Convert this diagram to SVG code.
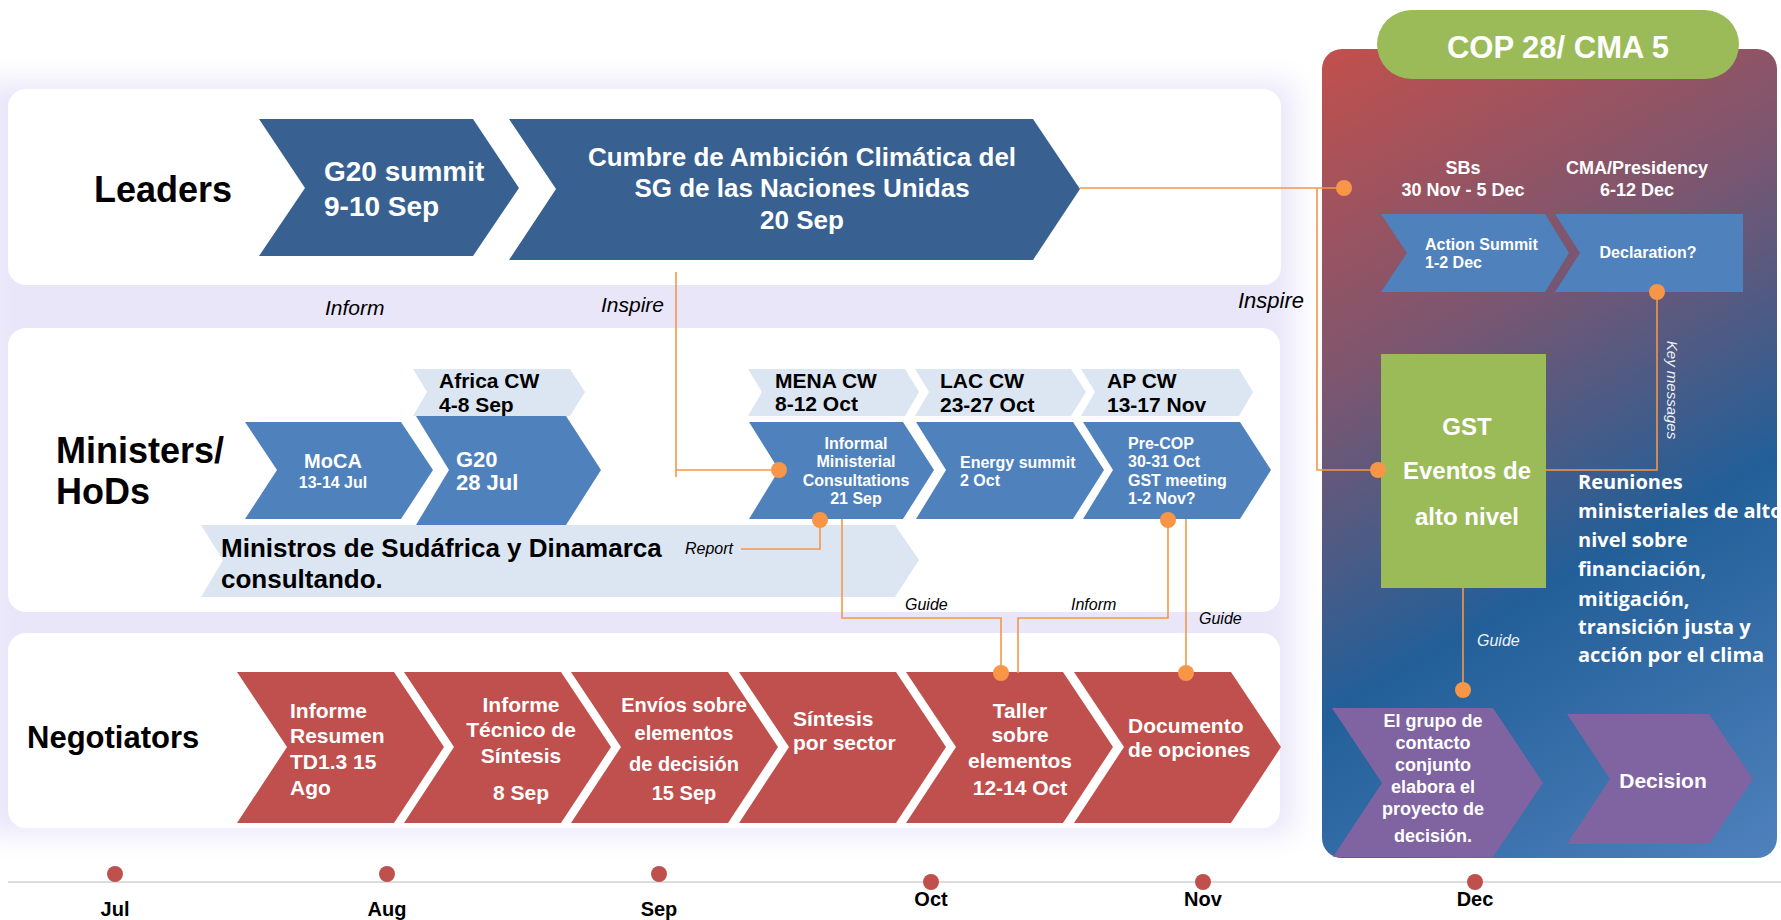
<svg xmlns="http://www.w3.org/2000/svg" width="1781" height="920" viewBox="0 0 1781 920">
<defs>
<filter id="blur" x="-10%" y="-10%" width="120%" height="120%"><feGaussianBlur stdDeviation="14"/></filter>
<linearGradient id="copg" gradientUnits="userSpaceOnUse" x1="1322" y1="60" x2="1777" y2="858">
<stop offset="0" stop-color="#c0504d"/>
<stop offset="0.32" stop-color="#7b5670"/>
<stop offset="0.62" stop-color="#225f98"/>
<stop offset="1" stop-color="#4f81bd"/>
</linearGradient>
<style>
text{font-family:"Liberation Sans",Arial,sans-serif}
.b{font-weight:bold}
.w{fill:#fff}
.k{fill:#000}
.it{font-style:italic;fill:#000}
.c{text-anchor:middle}
.panel{fill:#fff}
.ldr{fill:#386192}
.min{fill:#4f81bd}
.lt{fill:#dce6f2}
.neg{fill:#c0504d}
.pur{fill:#8064a2}
.grn{fill:#9bbb59}
.con{fill:none;stroke:#f79646;stroke-width:1.6}
.dot{fill:#f79646}
.tdot{fill:#c0504d}
.os{font-family:"Open Sans","Liberation Sans",sans-serif;font-weight:bold;fill:#fff;font-size:20px}
</style>
</defs>
<rect width="1781" height="920" fill="#fff"/>
<rect x="-20" y="82" width="1314" height="752" fill="#e9e6f9" filter="url(#blur)"/>

<g id="lane-leaders">
<rect class="panel" x="8" y="89" width="1273" height="196" rx="18"/>
<text class="b k" x="94" y="202" font-size="36">Leaders</text>
</g>
<g id="lane-ministers">
<rect class="panel" x="8" y="328" width="1272" height="284" rx="18"/>
<text class="b k" x="56" y="463" font-size="36">Ministers/</text>
<text class="b k" x="56" y="504" font-size="36">HoDs</text>
</g>
<g id="lane-negotiators">
<rect class="panel" x="8" y="633" width="1272" height="195" rx="18"/>
<text class="b k" x="27" y="748" font-size="31">Negotiators</text>
</g>

<g id="cop-panel">
<rect x="1322" y="49" width="455" height="809" rx="20" fill="url(#copg)"/>
<rect class="grn" x="1377" y="10" width="362" height="69" rx="34.5"/>
<text class="b w c" x="1558" y="58" font-size="31">COP 28/ CMA 5</text>
<text class="b w c" x="1463" y="174" font-size="18">SBs</text>
<text class="b w c" x="1463" y="196" font-size="18">30 Nov - 5 Dec</text>
<text class="b w c" x="1637" y="174" font-size="18">CMA/Presidency</text>
<text class="b w c" x="1637" y="196" font-size="18">6-12 Dec</text>
<text class="os" x="1578" y="489">Reuniones</text>
<text class="os" x="1578" y="518">ministeriales de alto</text>
<text class="os" x="1578" y="547">nivel sobre</text>
<text class="os" x="1578" y="576">financiación,</text>
<text class="os" x="1578" y="606">mitigación,</text>
<text class="os" x="1578" y="634">transición justa y</text>
<text class="os" x="1578" y="662">acción por el clima</text>
</g>

<g id="g20-summit">
<polygon class="ldr" points="259,119 473,119 519,188 473,256 259,256 305,188"/>
<text class="b w" x="324" y="181" font-size="28">G20 summit</text>
<text class="b w" x="324" y="216" font-size="28">9-10 Sep</text>
</g>
<g id="cumbre">
<polygon class="ldr" points="509,119 1033,119 1080,189 1033,260 509,260 556,189"/>
<text class="b w c" x="802" y="166" font-size="26">Cumbre de Ambición Climática del</text>
<text class="b w c" x="802" y="197" font-size="26">SG de las Naciones Unidas</text>
<text class="b w c" x="802" y="229" font-size="26">20 Sep</text>
</g>

<g id="africa-cw">
<polygon class="lt" points="413,369 570,369 585,392 570,416 413,416 427,392"/>
<text class="b k" x="439" y="388" font-size="21">Africa CW</text>
<text class="b k" x="439" y="412" font-size="21">4-8 Sep</text>
</g>
<g id="mena-cw">
<polygon class="lt" points="748,369 905,369 919,392 905,416 748,416 762,392"/>
<text class="b k" x="775" y="388" font-size="21">MENA CW</text>
<text class="b k" x="775" y="411" font-size="21">8-12 Oct</text>
</g>
<g id="lac-cw">
<polygon class="lt" points="915,369 1071,369 1086,392 1071,416 915,416 929,392"/>
<text class="b k" x="940" y="388" font-size="21">LAC CW</text>
<text class="b k" x="940" y="412" font-size="21">23-27 Oct</text>
</g>
<g id="ap-cw">
<polygon class="lt" points="1081,369 1239,369 1253,392 1239,416 1081,416 1095,392"/>
<text class="b k" x="1107" y="388" font-size="21">AP CW</text>
<text class="b k" x="1107" y="412" font-size="21">13-17 Nov</text>
</g>
<g id="moca">
<polygon class="min" points="245,422 401,422 433,470 401,519 245,519 277,470"/>
<text class="b w c" x="333" y="468" font-size="20">MoCA</text>
<text class="b w c" x="333" y="488" font-size="16">13-14 Jul</text>
</g>
<g id="g20-ministers">
<polygon class="min" points="416,416 566,416 601,470 566,525 416,525 449,470"/>
<text class="b w" x="456" y="467" font-size="22">G20</text>
<text class="b w" x="456" y="490" font-size="22">28 Jul</text>
</g>
<g id="informal">
<polygon class="min" points="749,422 903,422 934,470 903,519 749,519 779,470"/>
<text class="b w c" x="856" y="449" font-size="16">Informal</text>
<text class="b w c" x="856" y="467" font-size="16">Ministerial</text>
<text class="b w c" x="856" y="486" font-size="16">Consultations</text>
<text class="b w c" x="856" y="504" font-size="16">21 Sep</text>
</g>
<g id="energy">
<polygon class="min" points="916,422 1073,422 1104,470 1073,519 916,519 946,470"/>
<text class="b w" x="960" y="468" font-size="16">Energy summit</text>
<text class="b w" x="960" y="486" font-size="16">2 Oct</text>
</g>
<g id="precop">
<polygon class="min" points="1083,422 1240,422 1271,470 1240,519 1083,519 1113,470"/>
<text class="b w" x="1128" y="449" font-size="16">Pre-COP</text>
<text class="b w" x="1128" y="467" font-size="16">30-31 Oct</text>
<text class="b w" x="1128" y="486" font-size="16">GST meeting</text>
<text class="b w" x="1128" y="504" font-size="16">1-2 Nov?</text>
</g>
<g id="ministros">
<polygon class="lt" points="201,525 895,525 919,560 895,597 201,597 223,560"/>
<text class="b k" x="221" y="557" font-size="26">Ministros de Sudáfrica y Dinamarca</text>
<text class="b k" x="221" y="588" font-size="26">consultando.</text>
</g>

<g id="neg1">
<polygon class="neg" points="237,672 394,672 444,747 394,823 237,823 287,747"/>
<text class="b w" x="290" y="718" font-size="21">Informe</text>
<text class="b w" x="290" y="743" font-size="21">Resumen</text>
<text class="b w" x="290" y="769" font-size="21">TD1.3 15</text>
<text class="b w" x="290" y="795" font-size="21">Ago</text>
</g>
<g id="neg2">
<polygon class="neg" points="404,672 561,672 611,747 561,823 404,823 454,747"/>
<text class="b w c" x="521" y="712" font-size="21">Informe</text>
<text class="b w c" x="521" y="737" font-size="21">Técnico de</text>
<text class="b w c" x="521" y="763" font-size="21">Síntesis</text>
<text class="b w c" x="521" y="800" font-size="21">8 Sep</text>
</g>
<g id="neg3">
<polygon class="neg" points="571,672 728,672 778,747 728,823 571,823 621,747"/>
<text class="b w c" x="684" y="712" font-size="20">Envíos sobre</text>
<text class="b w c" x="684" y="740" font-size="20">elementos</text>
<text class="b w c" x="684" y="771" font-size="20">de decisión</text>
<text class="b w c" x="684" y="800" font-size="20">15 Sep</text>
</g>
<g id="neg4">
<polygon class="neg" points="739,672 896,672 946,747 896,823 739,823 789,747"/>
<text class="b w" x="793" y="726" font-size="21">Síntesis</text>
<text class="b w" x="793" y="750" font-size="21">por sector</text>
</g>
<g id="neg5">
<polygon class="neg" points="906,672 1063,672 1113,747 1063,823 906,823 956,747"/>
<text class="b w c" x="1020" y="718" font-size="21">Taller</text>
<text class="b w c" x="1020" y="742" font-size="21">sobre</text>
<text class="b w c" x="1020" y="768" font-size="21">elementos</text>
<text class="b w c" x="1020" y="795" font-size="21">12-14 Oct</text>
</g>
<g id="neg6">
<polygon class="neg" points="1074,672 1231,672 1281,747 1231,823 1074,823 1124,747"/>
<text class="b w" x="1128" y="733" font-size="21">Documento</text>
<text class="b w" x="1128" y="757" font-size="21">de opciones</text>
</g>

<g id="action-summit">
<polygon class="min" points="1381,214 1545,214 1569,253 1545,292 1381,292 1407,253"/>
<text class="b w" x="1425" y="250" font-size="16">Action Summit</text>
<text class="b w" x="1425" y="268" font-size="16">1-2 Dec</text>
</g>
<g id="declaration">
<polygon class="min" points="1555,214 1743,214 1743,292 1555,292 1580,253"/>
<text class="b w c" x="1648" y="258" font-size="16">Declaration?</text>
</g>
<g id="gst">
<rect class="grn" x="1381" y="354" width="165" height="234"/>
<text class="b w c" x="1467" y="435" font-size="24">GST</text>
<text class="b w c" x="1467" y="479" font-size="24">Eventos de</text>
<text class="b w c" x="1467" y="525" font-size="24">alto nivel</text>
</g>
<g id="grupo">
<polygon class="pur" points="1332,708 1493,708 1543,783 1493,857 1333,857 1382,783"/>
<text class="b w c" x="1433" y="727" font-size="18">El grupo de</text>
<text class="b w c" x="1433" y="749" font-size="18">contacto</text>
<text class="b w c" x="1433" y="771" font-size="18">conjunto</text>
<text class="b w c" x="1433" y="793" font-size="18">elabora el</text>
<text class="b w c" x="1433" y="815" font-size="18">proyecto de</text>
<text class="b w c" x="1433" y="842" font-size="18">decisión.</text>
</g>
<g id="decision">
<polygon class="pur" points="1567,714 1709,714 1753,779 1709,844 1567,844 1610,779"/>
<text class="b w c" x="1663" y="788" font-size="21">Decision</text>
</g>

<g id="connectors">
<path class="con" d="M1080,188 H1344"/>
<path class="con" d="M1317,188 V470 H1378"/>
<path class="con" d="M676,272 V477 M676,470 H779"/>
<path class="con" d="M741,549 H820 V520"/>
<path class="con" d="M842,519 V618 H1001 V673"/>
<path class="con" d="M1168,520 V618 H1018 V673"/>
<path class="con" d="M1186,519 V673"/>
<path class="con" d="M1657,292 V470 H1546"/>
<path class="con" d="M1463,588 V690"/>
<circle class="dot" cx="1344" cy="188" r="8"/>
<circle class="dot" cx="1378" cy="470" r="8"/>
<circle class="dot" cx="779" cy="470" r="8"/>
<circle class="dot" cx="820" cy="520" r="8"/>
<circle class="dot" cx="1001" cy="673" r="8"/>
<circle class="dot" cx="1168" cy="520" r="8"/>
<circle class="dot" cx="1186" cy="673" r="8"/>
<circle class="dot" cx="1657" cy="292" r="8"/>
<circle class="dot" cx="1463" cy="690" r="8"/>
<text class="it" x="325" y="315" font-size="21">Inform</text>
<text class="it" x="601" y="312" font-size="21">Inspire</text>
<text class="it" x="1238" y="308" font-size="22">Inspire</text>
<text class="it" x="685" y="554" font-size="16">Report</text>
<text class="it" x="905" y="610" font-size="16">Guide</text>
<text class="it" x="1071" y="610" font-size="16">Inform</text>
<text class="it" x="1199" y="624" font-size="16">Guide</text>
<text class="it" x="1477" y="646" font-size="16" style="fill:#eef0f8">Guide</text>
<text class="it c" x="1667" y="390" font-size="15" transform="rotate(90 1667 390)" style="fill:#eef0f8">Key messages</text>
</g>

<g id="timeline">
<line x1="8" y1="882" x2="1781" y2="882" stroke="#dcdcdc" stroke-width="2"/>
<circle class="tdot" cx="115" cy="874" r="8"/>
<circle class="tdot" cx="387" cy="874" r="8"/>
<circle class="tdot" cx="659" cy="874" r="8"/>
<circle class="tdot" cx="931" cy="882" r="8"/>
<circle class="tdot" cx="1203" cy="882" r="8"/>
<circle class="tdot" cx="1475" cy="882" r="8"/>
<text class="b k c" x="115" y="916" font-size="20">Jul</text>
<text class="b k c" x="387" y="916" font-size="20">Aug</text>
<text class="b k c" x="659" y="916" font-size="20">Sep</text>
<text class="b k c" x="931" y="906" font-size="20">Oct</text>
<text class="b k c" x="1203" y="906" font-size="20">Nov</text>
<text class="b k c" x="1475" y="906" font-size="20">Dec</text>
</g>
</svg>
